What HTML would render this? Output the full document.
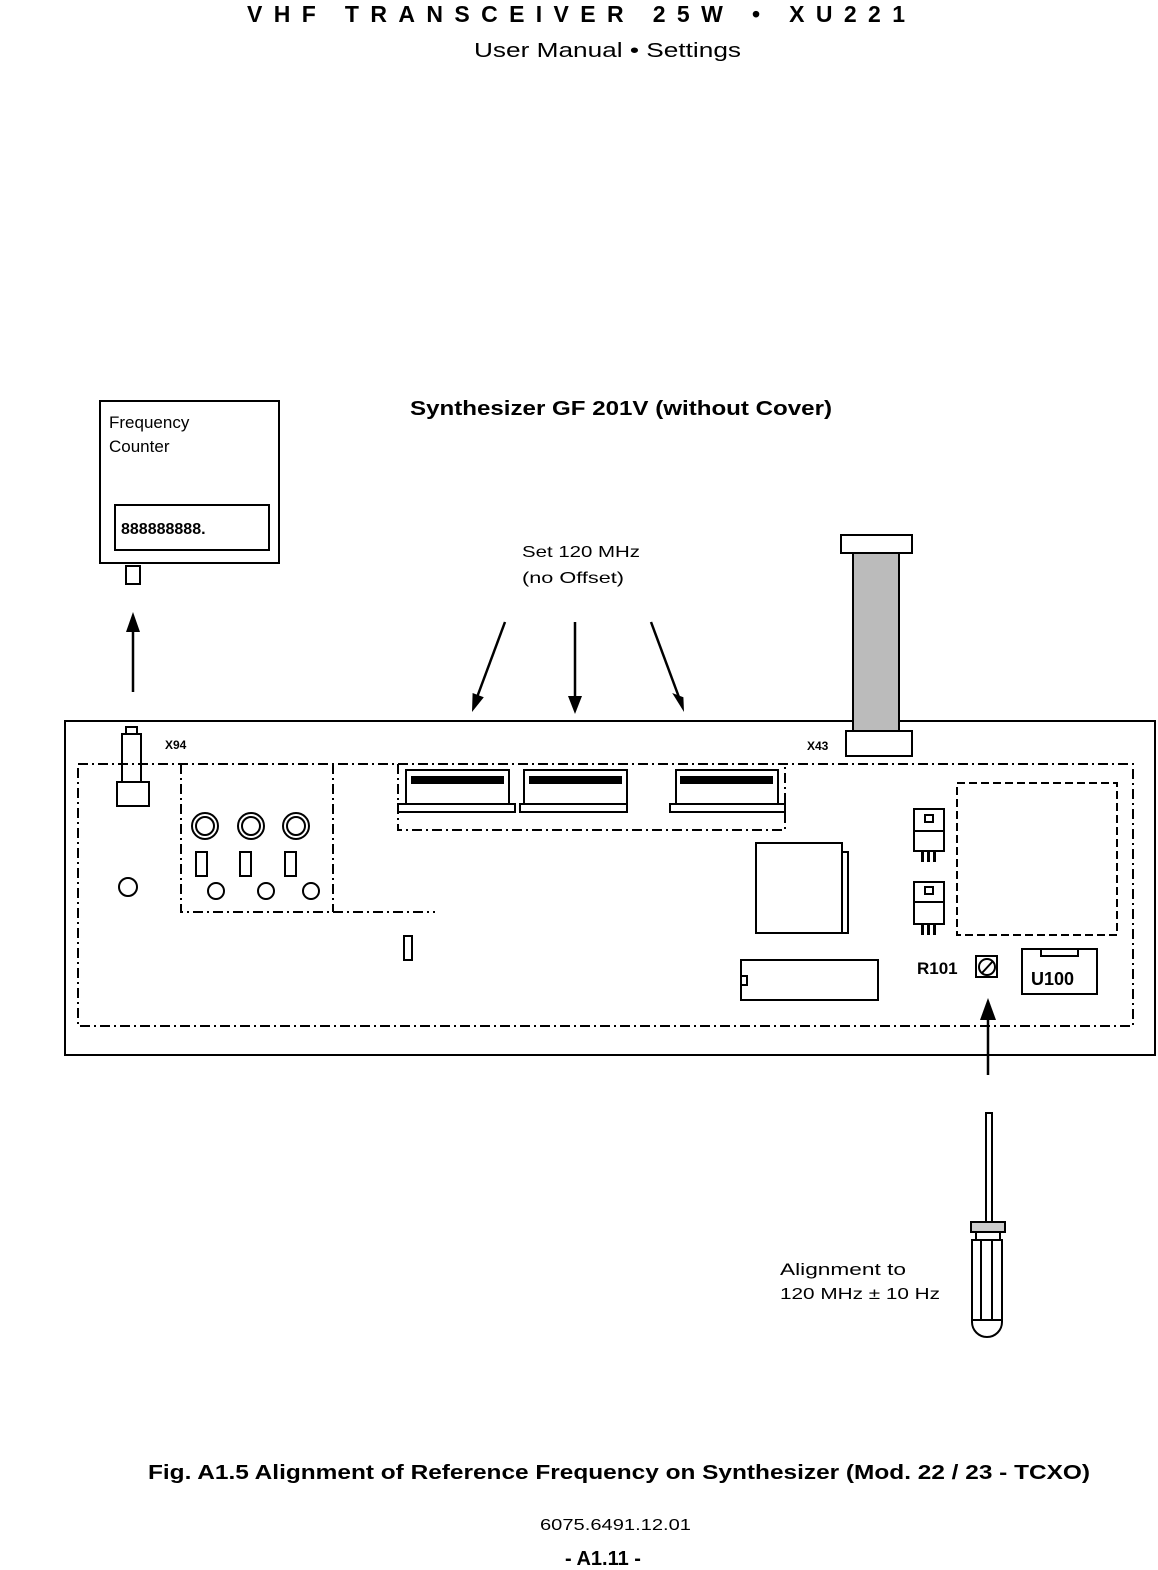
<!DOCTYPE html>
<html><head><style>body{margin:0;background:#fff}svg{display:block}text{font-family:"Liberation Sans",sans-serif;fill:#000}</style></head><body>
<svg width="1158" height="1570" viewBox="0 0 1158 1570" xmlns="http://www.w3.org/2000/svg">
<text x="247" y="22" font-size="23" font-weight="bold" textLength="658" lengthAdjust="spacing">VHF TRANSCEIVER 25W • XU221</text>
<text x="474" y="57" font-size="20" textLength="267" lengthAdjust="spacingAndGlyphs">User Manual • Settings</text>
<text x="410" y="415" font-size="20" font-weight="bold" textLength="422" lengthAdjust="spacingAndGlyphs">Synthesizer GF 201V (without Cover)</text>
<g fill="none" stroke="#000" stroke-width="2">
<rect x="100" y="401" width="179" height="162"/>
<rect x="115" y="505" width="154" height="45"/>
<rect x="126" y="566" width="14" height="18"/>
<rect x="65" y="721" width="1090" height="334"/>
<rect x="78" y="764" width="1055" height="262" stroke-dasharray="10,4,2,4"/>
<path d="M181,764 V912 H435 M333,764 V912" stroke-dasharray="10,4,2,4"/>
<path d="M398,764 V830 H785 V764" stroke-dasharray="10,4,2,4"/>
<rect x="957" y="783" width="160" height="152" stroke-dasharray="8,4"/>
<rect x="126" y="727" width="11" height="7"/>
<rect x="122" y="734" width="19" height="48"/>
<rect x="117" y="782" width="32" height="24"/>
<circle cx="128" cy="887" r="9"/>
<circle cx="205" cy="826" r="13"/><circle cx="205" cy="826" r="9"/>
<circle cx="251" cy="826" r="13"/><circle cx="251" cy="826" r="9"/>
<circle cx="296" cy="826" r="13"/><circle cx="296" cy="826" r="9"/>
<rect x="196" y="852" width="11" height="24"/><rect x="240" y="852" width="11" height="24"/><rect x="285" y="852" width="11" height="24"/>
<circle cx="216" cy="891" r="8"/><circle cx="266" cy="891" r="8"/><circle cx="311" cy="891" r="8"/>
<rect x="404" y="936" width="8" height="24"/>
<rect x="406" y="770" width="103" height="34"/><rect x="398" y="804" width="117" height="8"/>
<rect x="524" y="770" width="103" height="34"/><rect x="520" y="804" width="107" height="8"/>
<rect x="676" y="770" width="102" height="34"/><rect x="670" y="804" width="115" height="8"/>
<rect x="756" y="843" width="86" height="90"/><path d="M842,852 H848 V933 H842"/>
<rect x="741" y="960" width="137" height="40"/><rect x="741" y="976" width="6" height="9"/>
<rect x="914" y="809" width="30" height="42"/><rect x="925" y="815" width="8" height="7"/><line x1="914" y1="831" x2="944" y2="831"/>
<rect x="914" y="882" width="30" height="42"/><rect x="925" y="887" width="8" height="7"/><line x1="914" y1="902" x2="944" y2="902"/>
<rect x="976" y="956" width="21" height="21"/><circle cx="987" cy="967" r="8"/><line x1="982" y1="973" x2="993" y2="961"/>
<rect x="1022" y="949" width="75" height="45"/><rect x="1041" y="949" width="37" height="7"/>
<rect x="841" y="535" width="71" height="18"/>
<rect x="853" y="553" width="46" height="178" fill="#bbb"/>
<rect x="846" y="731" width="66" height="25" fill="#fff"/>
<rect x="986" y="1113" width="6" height="110"/>
<rect x="971" y="1222" width="34" height="10" fill="#ccc"/>
<rect x="976" y="1232" width="24" height="8"/>
<path d="M972,1240 H1002 V1322 A15,15 0 0 1 972,1322 Z"/>
<path d="M981,1240 V1320 M992,1240 V1320 M972,1320 H1002"/>
</g>
<g fill="#000">
<rect x="411" y="776" width="93" height="8"/><rect x="529" y="776" width="93" height="8"/><rect x="680" y="776" width="93" height="8"/>
<rect x="921" y="851" width="3" height="11"/><rect x="927" y="851" width="3" height="11"/><rect x="933" y="851" width="3" height="11"/>
<rect x="921" y="924" width="3" height="11"/><rect x="927" y="924" width="3" height="11"/><rect x="933" y="924" width="3" height="11"/>
</g>
<g stroke="#000" stroke-width="2.5" fill="none">
<line x1="133" y1="692" x2="133" y2="625"/>
<line x1="505" y1="622" x2="476" y2="700"/>
<line x1="575" y1="622" x2="575" y2="700"/>
<line x1="651" y1="622" x2="680" y2="700"/>
<line x1="988" y1="1075" x2="988" y2="1010"/>
</g>
<g fill="#000">
<polygon points="133,612 126,632 140,632"/>
<polygon points="575,714 568,696 582,696"/>
<polygon points="472,712 483.8,697.2 472.6,693"/>
<polygon points="684,712 683.4,697.2 672.2,693"/>
<polygon points="988,998 980,1020 996,1020"/>
</g>
<text x="109" y="428" font-size="17">Frequency</text>
<text x="109" y="452" font-size="17">Counter</text>
<text x="121" y="534" font-size="16" font-weight="bold">888888888.</text>
<text x="522" y="557" font-size="16" textLength="118" lengthAdjust="spacingAndGlyphs">Set 120 MHz</text>
<text x="522" y="583" font-size="16" textLength="102" lengthAdjust="spacingAndGlyphs">(no Offset)</text>
<text x="165" y="749" font-size="12" font-weight="bold">X94</text>
<text x="807" y="750" font-size="12" font-weight="bold">X43</text>
<text x="917" y="974" font-size="17" font-weight="bold">R101</text>
<text x="1031" y="985" font-size="18" font-weight="bold">U100</text>
<text x="780" y="1275" font-size="17" textLength="126" lengthAdjust="spacingAndGlyphs">Alignment to</text>
<text x="780" y="1299" font-size="16" textLength="160" lengthAdjust="spacingAndGlyphs">120 MHz ± 10 Hz</text>
<text x="148" y="1479" font-size="20" font-weight="bold" textLength="942" lengthAdjust="spacingAndGlyphs">Fig. A1.5   Alignment of Reference Frequency on Synthesizer (Mod. 22 / 23 - TCXO)</text>
<text x="540" y="1530" font-size="16" textLength="151" lengthAdjust="spacingAndGlyphs">6075.6491.12.01</text>
<text x="565" y="1565" font-size="20" font-weight="bold">- A1.11 -</text>
</svg>
</body></html>
